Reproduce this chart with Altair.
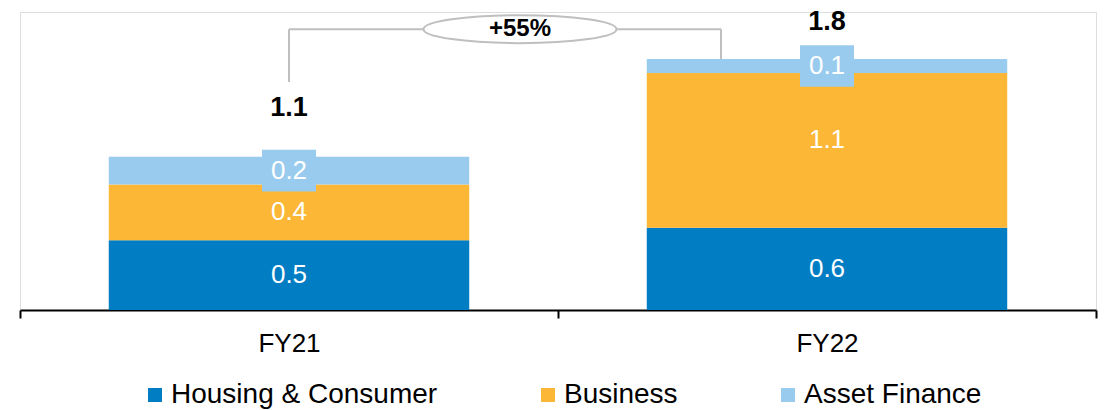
import altair as alt
import pandas as pd

# ---------------- data ----------------
categories = ["FY21", "FY22"]
series = ["Housing & Consumer", "Business", "Asset Finance"]
housing = [0.50, 0.59]
business = [0.40, 1.11]
asset = [0.20, 0.10]
housing_labels = ["0.5", "0.6"]
business_labels = ["0.4", "1.1"]
asset_labels = ["0.2", "0.1"]
totals = [1.10, 1.80]
total_labels = ["1.1", "1.8"]
growth_label = "+55%"
colors = ["#007DC3", "#FBB735", "#99CBEE"]

FONT = "Liberation Sans"
GRAY = "#BFBFBF"

rows = []
for i, c in enumerate(categories):
    for j, (vals, labs) in enumerate([(housing, housing_labels),
                                       (business, business_labels),
                                       (asset, asset_labels)]):
        rows.append({"cat": c, "series": series[j], "ord": j,
                     "value": vals[i], "label": labs[i]})
df = pd.DataFrame(rows)
tot_df = pd.DataFrame({"cat": categories, "total": totals, "label": total_labels})

level = max(totals) + 0.215
bracket_df = pd.DataFrame({
    "cat": categories,
    "y_low": [totals[0] + 0.536, totals[1]],
    "y_high": [level, level],
})
ann_df = pd.DataFrame({"cat": ["FY21"], "x2cat": ["FY22"], "level": [level], "label": [growth_label]})

x_enc = alt.X(
    "cat:N", sort=categories, title=None,
    scale=alt.Scale(domain=categories, paddingInner=0, paddingOuter=0),
    axis=alt.Axis(labelAngle=0, labelFontSize=26, labelFont=FONT, labelColor="black",
                  domainColor="black", domainWidth=2, tickColor="black", tickWidth=2,
                  tickSize=8, tickBand="extent", labelPadding=12, grid=False),
)
y_scale = alt.Scale(domain=[0, 2.138], nice=False, zero=True)

base = alt.Chart(df)

bars = base.mark_bar(width=alt.RelativeBandSize(0.67)).encode(
    x=x_enc,
    y=alt.Y("value:Q", stack="zero", scale=y_scale, axis=None),
    color=alt.Color(
        "series:N", sort=series,
        scale=alt.Scale(domain=series, range=colors),
        legend=alt.Legend(
            orient="none", legendX=121, legendY=369, direction="horizontal",
            title=None, symbolType="square", symbolSize=196, symbolStrokeWidth=0,
            labelFontSize=28, labelFont=FONT, labelColor="black", padding=0,
            columnPadding=96, labelOffset=2, labelLimit=0,
        ),
    ),
    order=alt.Order("ord:Q", sort="ascending"),
)

stacked = base.transform_stack(
    stack="value", groupby=["cat"],
    sort=[alt.SortField("ord", order="ascending")], as_=["y0", "y1"],
).transform_calculate(mid="(datum.y0 + datum.y1) / 2")

box_shape = "M -1 -0.77 L 1 -0.77 L 1 0.77 L -1 0.77 Z"
boxes = stacked.transform_filter("datum.ord == 2").mark_point(
    shape=box_shape, size=2916, filled=True, opacity=1, color=colors[2], strokeWidth=0
).encode(x=alt.X("cat:N", sort=categories), y=alt.Y("mid:Q", scale=y_scale))

seg_main = stacked.transform_filter("!(datum.cat == 'FY22' && datum.ord == 1)").mark_text(
    color="white", fontSize=26, font=FONT, baseline="middle", align="center"
).encode(x=alt.X("cat:N", sort=categories), y=alt.Y("mid:Q", scale=y_scale), text="label:N")
seg_fy22_bus = stacked.transform_filter("datum.cat == 'FY22' && datum.ord == 1").mark_text(
    color="white", fontSize=26, font=FONT, baseline="middle", align="center", dy=-10
).encode(x=alt.X("cat:N", sort=categories), y=alt.Y("mid:Q", scale=y_scale), text="label:N")

tot_base = alt.Chart(tot_df)
tot1 = tot_base.transform_filter("datum.cat == 'FY21'").mark_text(
    fontSize=27, font=FONT, fontWeight="bold", color="black", baseline="middle", dy=-49
).encode(x=alt.X("cat:N", sort=categories), y=alt.Y("total:Q", scale=y_scale), text="label:N")
tot2 = tot_base.transform_filter("datum.cat == 'FY22'").mark_text(
    fontSize=27, font=FONT, fontWeight="bold", color="black", baseline="middle", dy=-37
).encode(x=alt.X("cat:N", sort=categories), y=alt.Y("total:Q", scale=y_scale), text="label:N")

br = alt.Chart(bracket_df)
left_v = br.transform_filter("datum.cat == 'FY21'").mark_rule(color=GRAY, strokeWidth=2).encode(
    x=alt.X("cat:N", sort=categories), y=alt.Y("y_low:Q", scale=y_scale), y2="y_high:Q")
right_v = br.transform_filter("datum.cat == 'FY22'").mark_rule(color=GRAY, strokeWidth=2, xOffset=-106).encode(
    x=alt.X("cat:N", sort=categories), y=alt.Y("y_low:Q", scale=y_scale), y2="y_high:Q")

ann = alt.Chart(ann_df)
horiz = ann.mark_rule(color=GRAY, strokeWidth=2, x2Offset=-106).encode(
    x=alt.X("cat:N", sort=categories), x2="x2cat:N", y=alt.Y("level:Q", scale=y_scale))

k = 0.145
c = 0.5523 * k
ellipse_shape = (f"M -1 0 C -1 {-c} -0.5523 {-k} 0 {-k} C 0.5523 {-k} 1 {-c} 1 0 "
                 f"C 1 {c} 0.5523 {k} 0 {k} C -0.5523 {k} -1 {c} -1 0 Z")
ellipse = ann.mark_point(
    shape=ellipse_shape, size=193 * 193, filled=True, fill="white", stroke=GRAY,
    strokeWidth=2, opacity=1, fillOpacity=1, strokeOpacity=1, xOffset=231
).encode(x=alt.X("cat:N", sort=categories), y=alt.Y("level:Q", scale=y_scale))
growth = ann.mark_text(
    fontSize=24, font=FONT, fontWeight="bold", color="black", baseline="middle", xOffset=231
).encode(x=alt.X("cat:N", sort=categories), y=alt.Y("level:Q", scale=y_scale), text="label:N")

chart = alt.layer(
    bars, boxes, seg_main, seg_fy22_bus, tot1, tot2, left_v, right_v, horiz, ellipse, growth
).properties(
    width=1076, height=298,
    autosize=alt.AutoSizeParams(type="none"),
    padding={"left": 12, "top": 4, "right": 3, "bottom": 100},
).configure_view(stroke=None).configure(background="white")

chart.save("out.html", embed_options={"renderer": "svg", "actions": False})
